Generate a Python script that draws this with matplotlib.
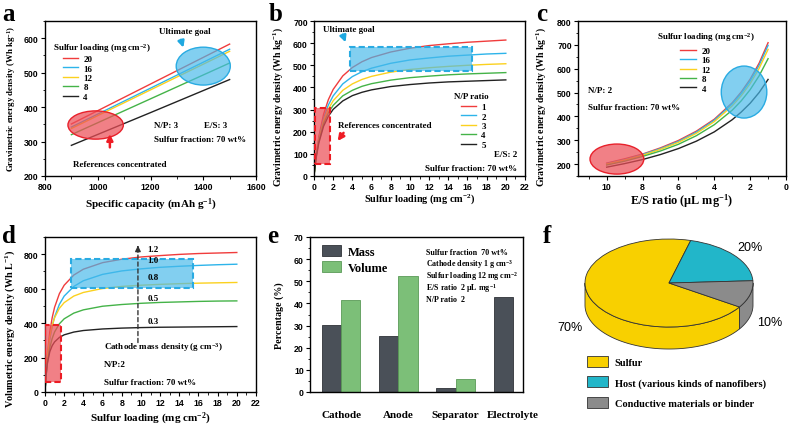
import numpy as np
import matplotlib
matplotlib.use('Agg')
import matplotlib.pyplot as plt
from matplotlib.patches import Ellipse, Rectangle
from matplotlib.colors import to_rgba
from matplotlib.ticker import MultipleLocator, AutoMinorLocator

plt.rcParams['font.family'] = 'Liberation Serif'
plt.rcParams['font.weight'] = 'bold'
plt.rcParams['axes.labelweight'] = 'bold'
plt.rcParams['mathtext.fontset'] = 'custom'
plt.rcParams['mathtext.rm'] = 'Liberation Serif:bold'
plt.rcParams['mathtext.it'] = 'Liberation Serif:bold'
plt.rcParams['mathtext.bf'] = 'Liberation Serif:bold'
plt.rcParams['axes.linewidth'] = 1.0

# ---- data ----
line_colors = ['#f03c3c', '#2db4ea', '#fbd11f', '#44b348', '#222222']

# a: energy vs specific capacity
cap_a = [900, 1200, 1500]
load_labels = ['20', '16', '12', '8', '4']
a_20 = [351, 467, 583]
a_16 = [342, 455, 568]
a_12 = [338, 450, 562]
a_8 = [320, 424, 528]
a_4 = [289, 384, 480]

# b: energy vs sulfur loading for N/P ratio
load_b = [0.02, 0.1, 0.25, 0.5, 1, 1.5, 2, 3, 4, 5, 6, 8, 10, 12, 14, 16, 18, 20]
np_labels = ['1', '2', '3', '4', '5']
b_np1 = [10, 45, 102, 177, 279, 345, 391, 452, 490, 516, 535, 560, 577, 589, 597, 604, 609, 614]
b_np2 = [10, 44, 98, 168, 262, 321, 362, 416, 449, 471, 487, 509, 524, 533, 541, 546, 551, 554]
b_np3 = [9, 43, 96, 162, 249, 303, 340, 387, 416, 436, 450, 469, 481, 489, 495, 500, 504, 507]
b_np4 = [9, 42, 92, 156, 237, 286, 319, 362, 387, 405, 417, 433, 444, 451, 457, 461, 464, 467]
b_np5 = [9, 40, 89, 149, 225, 270, 301, 339, 363, 378, 389, 404, 413, 420, 425, 428, 431, 434]

# c: energy vs E/S ratio
es_c = [10, 9, 8, 7, 6, 5, 4, 3, 2.5, 2, 1.5, 1]
c_20 = [204, 222, 242, 268, 299, 338, 388, 457, 502, 556, 623, 709]
c_16 = [202, 219, 240, 265, 295, 334, 384, 452, 495, 548, 614, 698]
c_12 = [200, 217, 237, 262, 291, 329, 378, 444, 486, 537, 601, 681]
c_8 = [196, 212, 232, 255, 283, 319, 365, 426, 465, 512, 570, 642]
c_4 = [187, 202, 219, 240, 265, 296, 335, 386, 418, 455, 500, 555]

# d: volumetric energy vs sulfur loading for cathode density
load_d = [0.02, 0.1, 0.25, 0.5, 0.75, 1, 1.5, 2, 3, 4, 6, 8, 10, 12, 14, 16, 18, 20]
dens_labels = ['1.2', '1.0', '0.8', '0.5', '0.3']
d_12 = [23, 104, 220, 348, 432, 492, 571, 620, 679, 713, 751, 771, 784, 792, 799, 804, 807, 810]
d_10 = [20, 89, 189, 304, 381, 436, 509, 557, 613, 646, 683, 703, 715, 724, 730, 735, 739, 742]
d_08 = [24, 106, 213, 321, 387, 431, 486, 519, 557, 578, 601, 613, 620, 625, 629, 632, 634, 636]
d_05 = [19, 82, 168, 257, 311, 349, 396, 425, 458, 477, 498, 508, 515, 520, 523, 526, 528, 529]
d_03 = [22, 91, 168, 234, 269, 291, 317, 332, 348, 357, 366, 371, 374, 376, 377, 378, 379, 380]

# e: mass / volume share
components = ['Cathode', 'Anode', 'Separator', 'Electrolyte']
mass_pct = [30.4, 25.4, 1.7, 42.8]
volume_pct = [41.7, 52.6, 6.0, np.nan]

# f: cathode composition
pie_labels = ['Sulfur', 'Host (various kinds of nanofibers)', 'Conductive materials or binder']
pie_values = [70, 20, 10]
pie_colors = ['#f8d000', '#22b6c9', '#8b8b8b']

W, H = 800, 427
fig = plt.figure(figsize=(8, 4.27), dpi=100)


def px_axes(l, t, r, b):
    return fig.add_axes([l / W, 1 - b / H, (r - l) / W, (b - t) / H])


def style(ax, ylab, xlab, ylab_off, xlab_off, ysize=7.2, xsize=8, yc=0.5):
    ax.tick_params(direction='out', length=3, width=0.8, labelsize=6.3, pad=1.5,
                   labelfontfamily='Liberation Sans')
    ax.tick_params(which='minor', direction='out', length=1.8, width=0.6)
    ax.set_ylabel(ylab, fontsize=ysize)
    pos = ax.get_position()
    ax.yaxis.set_label_coords(-ylab_off / (pos.width * W), yc)
    if xlab:
        ax.set_xlabel(xlab, fontsize=xsize)
        ax.xaxis.set_label_coords(0.5, -xlab_off / (pos.height * H))


def leg(ax, handles, labels, x, y, hl=1.6, sp=0.12):
    ax.legend(handles, labels, loc='upper left', bbox_to_anchor=(x, y), frameon=False,
              fontsize=6.5, handlelength=hl, handletextpad=0.6, labelspacing=sp,
              borderpad=0, borderaxespad=0)


red_fc = to_rgba('#ec4f58', 0.72)
blue_fc = to_rgba('#47b9ea', 0.68)
arrow_red = dict(arrowstyle='-|>', color='#ee1c24', lw=1.8, mutation_scale=9)
arrow_blue = dict(arrowstyle='-|>', color='#1fa8e0', lw=1.8, mutation_scale=9)
gl = 'Gravimetric energy density (Wh kg$^{-1}$)'

# ---- a ----
ax = px_axes(45, 22, 256, 177)
hs = []
for ys, c in zip([a_20, a_16, a_12, a_8, a_4], line_colors):
    hs += ax.plot(cap_a, ys, color=c, lw=1)
ax.add_patch(Ellipse((992, 348), 210, 82, fc=red_fc, ec='#e8212b', lw=1, zorder=3))
ax.add_patch(Ellipse((1400, 519), 205, 110, fc=blue_fc, ec='#29abe2', lw=1, zorder=3))
ax.annotate('', xy=(1046, 330), xytext=(1046, 275), arrowprops=arrow_red)
ax.annotate('', xy=(1328, 565), xytext=(1312, 603), arrowprops=arrow_blue)
ax.text(1331, 621, 'Ultimate goal', fontsize=6.5, ha='center', va='center')
ax.text(1084, 236, 'References concentrated', fontsize=6.5, ha='center', va='center')
ax.text(1213, 347, 'N/P: 3', fontsize=6.5, va='center')
ax.text(1403, 347, 'E/S: 3', fontsize=6.5, va='center')
ax.text(1213, 307, 'Sulfur fraction: 70 wt%', fontsize=6.5, va='center')
ax.text(832, 573, 'Sulfur loading (mg cm$^{-2}$)', fontsize=6.5, va='center')
leg(ax, hs, load_labels, 0.0875, 0.782)
ax.set_xlim(800, 1600)
ax.set_ylim(200, 650)
ax.xaxis.set_major_locator(MultipleLocator(200))
ax.yaxis.set_major_locator(MultipleLocator(100))
ax.xaxis.set_minor_locator(AutoMinorLocator(2))
ax.yaxis.set_minor_locator(AutoMinorLocator(2))
style(ax, gl, 'Specific capacity (mAh g$^{-1}$)', 27, 20, ysize=6.4, xsize=8)

# ---- b ----
ax = px_axes(314, 22, 525, 177)
hs = []
for ys, c in zip([b_np1, b_np2, b_np3, b_np4, b_np5], line_colors):
    hs += ax.plot(load_b, ys, color=c, lw=1)
ax.add_patch(Rectangle((3.73, 474), 16.45 - 3.73, 583 - 474, fc=blue_fc, ec='#29abe2',
                       lw=1.5, ls=(0, (3, 1.5)), zorder=3))
ax.add_patch(Rectangle((0.14, 56), 1.7 - 0.14, 306 - 56, fc=red_fc, ec='#ec1c24',
                       lw=1.5, ls=(0, (3, 1.5)), zorder=3))
ax.annotate('', xy=(3.4, 592), xytext=(2.9, 650), arrowprops=arrow_blue)
ax.annotate('', xy=(2.3, 148), xytext=(3.25, 205), arrowprops=arrow_red)
ax.text(0.94, 666, 'Ultimate goal', fontsize=6.5, va='center')
ax.text(2.5, 230, 'References concentrated', fontsize=6.5, va='center')
ax.text(16.4, 361, 'N/P ratio', fontsize=6.5, ha='center', va='center')
ax.text(21.2, 98, 'E/S: 2', fontsize=6.5, ha='right', va='center')
ax.text(21.2, 38, 'Sulfur fraction: 70 wt%', fontsize=6.5, ha='right', va='center')
leg(ax, hs, np_labels, 0.695, 0.472, hl=1.7)
ax.set_xlim(0, 22)
ax.set_ylim(0, 700)
ax.xaxis.set_major_locator(MultipleLocator(2))
ax.yaxis.set_major_locator(MultipleLocator(100))
ax.xaxis.set_minor_locator(AutoMinorLocator(2))
ax.yaxis.set_minor_locator(AutoMinorLocator(2))
style(ax, gl, 'Sulfur loading (mg cm$^{-2}$)', 29, 15, ysize=7.0, xsize=7.4, yc=0.45)

# ---- c ----
ax = px_axes(578, 22, 786, 177)
hs = []
for ys, c in zip([c_20, c_16, c_12, c_8, c_4], line_colors):
    hs += ax.plot(es_c, ys, color=c, lw=1)
ax.add_patch(Ellipse((9.43, 221), 3.0, 126, fc=red_fc, ec='#e8212b', lw=1, zorder=3))
ax.add_patch(Ellipse((2.34, 502), 2.54, 218, fc=blue_fc, ec='#29abe2', lw=1, zorder=3))
ax.text(7.19, 734, 'Sulfur loading (mg cm$^{-2}$)', fontsize=6.5, va='center')
ax.text(11.04, 512, 'N/P: 2', fontsize=6.5, va='center')
ax.text(11.04, 440, 'Sulfur fraction: 70 wt%', fontsize=6.5, va='center')
leg(ax, hs, load_labels, 0.492, 0.835, hl=1.75)
ax.set_xlim(11.6, 0)
ax.set_ylim(150, 800)
ax.xaxis.set_major_locator(MultipleLocator(2))
ax.yaxis.set_major_locator(MultipleLocator(100))
ax.xaxis.set_minor_locator(AutoMinorLocator(2))
ax.yaxis.set_minor_locator(AutoMinorLocator(2))
style(ax, gl, 'E/S ratio (μL mg$^{-1}$)', 30, 15, ysize=7.0, xsize=8.8, yc=0.45)

# ---- d ----
ax = px_axes(45, 238, 256, 393)
for ys, c in zip([d_12, d_10, d_08, d_05, d_03], line_colors):
    ax.plot(load_d, ys, color=c, lw=1)
ax.add_patch(Rectangle((2.72, 601), 15.45 - 2.72, 775 - 601, fc=blue_fc, ec='#29abe2',
                       lw=1.5, ls=(0, (3, 1.5)), zorder=3))
ax.add_patch(Rectangle((0.05, 58), 1.67 - 0.05, 388 - 58, fc=red_fc, ec='#ec1c24',
                       lw=1.5, ls=(0, (3, 1.5)), zorder=3))
ax.annotate('', xy=(9.69, 830), xytext=(9.69, 271),
            arrowprops=dict(arrowstyle='-', color='#333333', lw=1, ls=(0, (3, 2))))
ax.annotate('', xy=(9.69, 850), xytext=(9.69, 820),
            arrowprops=dict(arrowstyle='-|>', color='#333333', lw=1, mutation_scale=8))
for lab, yv in zip(dens_labels, [833, 767, 665, 548, 413]):
    ax.text(10.7, yv, lab, fontsize=6.5, va='center', zorder=4)
ax.text(6.1, 264, 'Cathode mass density (g cm$^{-3}$)', fontsize=6.5, va='center')
ax.text(6.1, 161, 'N/P:2', fontsize=6.5, va='center')
ax.text(6.1, 58, 'Sulfur fraction: 70 wt%', fontsize=6.5, va='center')
ax.set_xlim(0, 22)
ax.set_ylim(0, 900)
ax.xaxis.set_major_locator(MultipleLocator(2))
ax.yaxis.set_major_locator(MultipleLocator(200))
ax.xaxis.set_minor_locator(AutoMinorLocator(2))
ax.yaxis.set_minor_locator(AutoMinorLocator(2))
style(ax, 'Volumetric energy density (Wh L$^{-1}$)', 'Sulfur loading (mg cm$^{-2}$)', 28, 18,
      ysize=7.3, xsize=8, yc=0.41)

# ---- e ----
ax = px_axes(310, 238, 523, 393)
xe = np.arange(len(components))
bw = 0.337
ax.bar(xe - bw / 2, mass_pct, bw, color='#4a5058', ec='#2f3338', lw=0.6, label='Mass')
ax.bar(xe + bw / 2, volume_pct, bw, color='#7cbf78', ec='#5a9a57', lw=0.6, label='Volume')
ax.legend(loc='upper left', bbox_to_anchor=(0.056, 0.95), frameon=False, fontsize=9,
          handlelength=1.55, handleheight=1.0, handletextpad=0.5, labelspacing=0.25,
          borderpad=0, borderaxespad=0)
for i, s in enumerate(['Sulfur fraction  70 wt%', 'Cathode density 1 g cm$^{-3}$',
                       'Sulfur loading 12 mg cm$^{-2}$', 'E/S ratio  2 μL mg$^{-1}$',
                       'N/P ratio  2']):
    ax.text(0.545, 0.906 - i * 0.077, s, fontsize=5.8, transform=ax.transAxes, va='center')
ax.set_xlim(-0.541, 3.174)
ax.set_ylim(0, 70)
ax.set_xticks(xe)
ax.set_xticklabels(components)
ax.yaxis.set_major_locator(MultipleLocator(10))
ax.yaxis.set_minor_locator(AutoMinorLocator(2))
style(ax, 'Percentage (%)', None, 26, 0, ysize=7.2)
ax.tick_params(axis='x', length=0, pad=13, labelsize=8, labelfontfamily='Liberation Serif')

# ---- f ----
axf = px_axes(555, 225, 795, 360)
wedges, _ = axf.pie(pie_values, colors=pie_colors, startangle=-33, counterclock=False,
                    wedgeprops=dict(edgecolor='#333333', linewidth=0.6))
axf.set_aspect('auto')
axf.set_xlim(-1.357, 1.5)
axf.set_ylim(-1.727, 1.341)
depth = 0.5
for w in wedges:
    t = np.radians(np.linspace(w.theta1, w.theta2, 200))
    m = np.sin(t) <= 0
    if m.any():
        tt = t[m]
        xs = np.concatenate([np.cos(tt), np.cos(tt[::-1])])
        ys = np.concatenate([np.sin(tt), np.sin(tt[::-1]) - depth])
        axf.fill(xs, ys, fc=w.get_facecolor(), ec='#333333', lw=0.6, zorder=0.5)
for s, (px, py) in zip(['70%', '20%', '10%'], [(-1.18, -1.0), (0.96, 0.82), (1.2, -0.89)]):
    axf.text(px, py, s, fontsize=9, family='Liberation Sans', weight='normal',
             ha='center', va='center')
axf.legend(wedges, pie_labels, loc='upper left', bbox_to_anchor=(587 / W, 1 - 357 / H),
           bbox_transform=fig.transFigure, frameon=False, fontsize=7.5, handlelength=2.0,
           handleheight=1.25, handletextpad=0.65, labelspacing=0.9, borderpad=0,
           borderaxespad=0)

# panel letters
for s, (px, py) in zip('abcdef', [(2, 21), (269, 21), (536, 21), (2, 243), (267, 243), (543, 243)]):
    fig.text(px / W, 1 - py / H, s, fontsize=18, ha='left', va='baseline')

fig.savefig('out.png', dpi=100)
